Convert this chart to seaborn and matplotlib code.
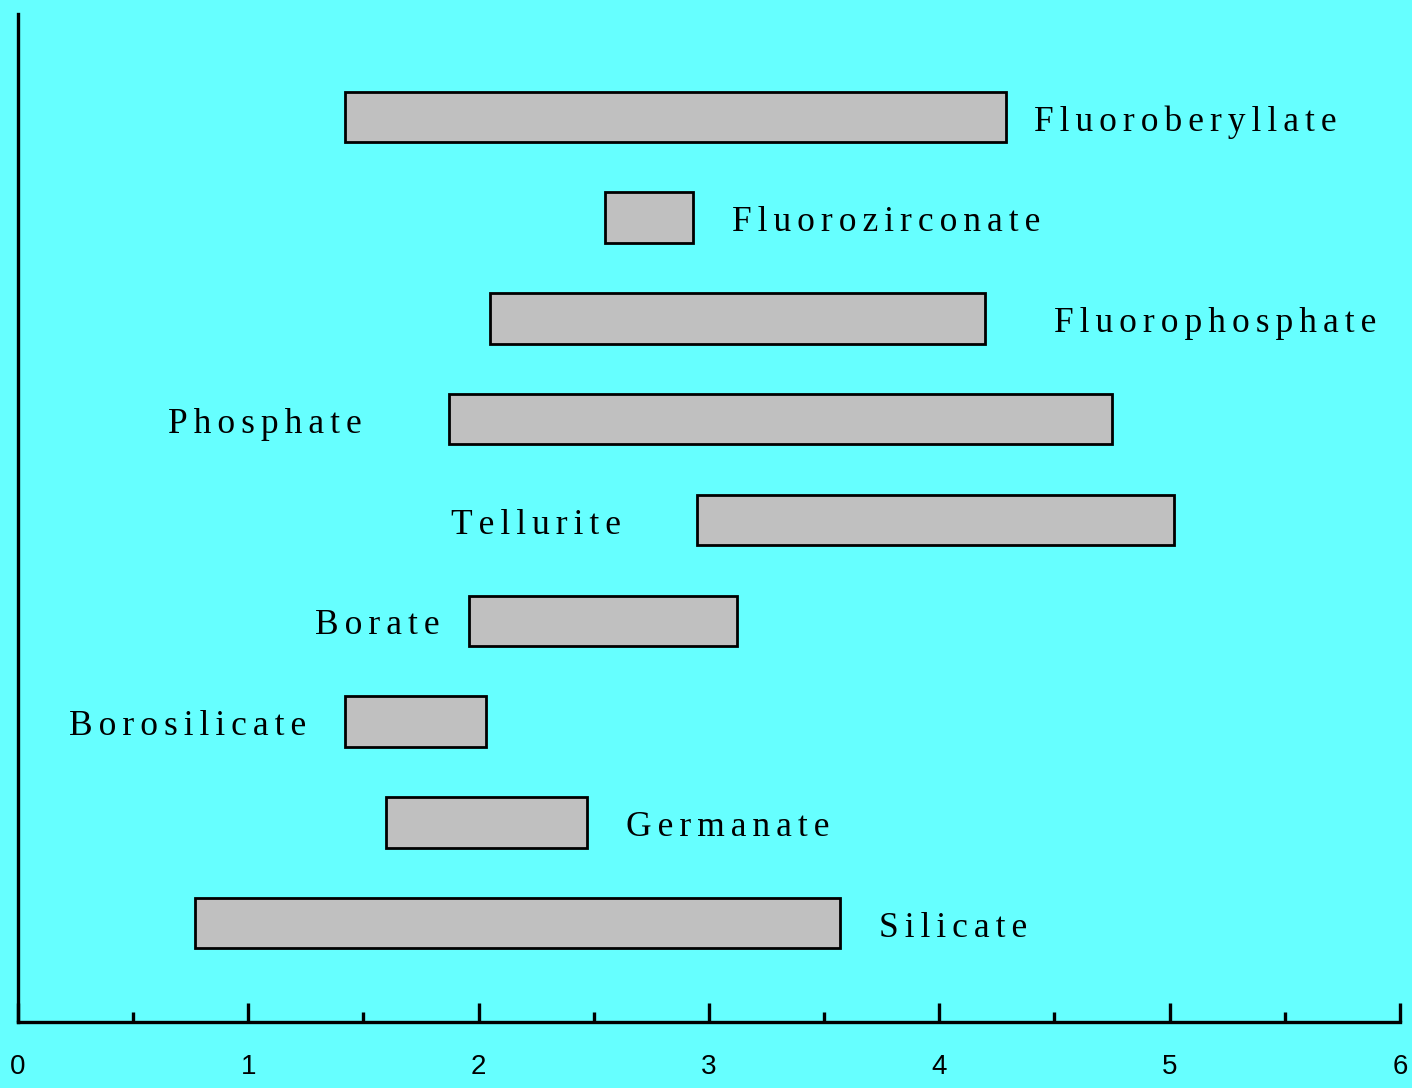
import matplotlib
matplotlib.use("Agg")
import matplotlib.pyplot as plt
import seaborn as sns
import pandas as pd

# ---- data ----
glasses = ["Fluoroberyllate", "Fluorozirconate", "Fluorophosphate", "Phosphate",
           "Tellurite", "Borate", "Borosilicate", "Germanate", "Silicate"]
range_start = [1.42, 2.55, 2.05, 1.87, 2.95, 1.96, 1.42, 1.60, 0.77]
range_end = [4.29, 2.93, 4.20, 4.75, 5.02, 3.12, 2.03, 2.47, 3.57]
label_x = [4.41, 3.10, 4.50, 0.65, 1.88, 1.29, 0.22, 2.64, 3.74]
x_ticks = [0, 1, 2, 3, 4, 5, 6]

df = pd.DataFrame({
    "glass": glasses,
    "start": range_start,
    "length": [e - s for s, e in zip(range_start, range_end)],
})

sns.set_theme(style="white")
bg = "#66FFFF"
fig = plt.figure(figsize=(14.12, 10.88), dpi=100, facecolor=bg)
ax = fig.add_axes([0.0127, 0.0607, 0.9788, 0.9264])
ax.set_facecolor(bg)

sns.barplot(data=df, y="glass", x="length", order=glasses, orient="h",
            width=0.5, color="#C0C0C0", saturation=1, left=df["start"].values,
            edgecolor="black", linewidth=2.0, ax=ax)

ax.set_xlim(0, 6)
ax.set_ylim(8.98, -1.02)

sep = "\u200a\u200a"
for name, lx, i in zip(glasses, label_x, range(len(glasses))):
    ax.text(lx, i + 0.05, sep.join(name), fontsize=25.5, va="center", ha="left",
            family=["Liberation Serif", "DejaVu Serif"], color="black")

for side in ["top", "right"]:
    ax.spines[side].set_visible(False)
for side in ["left", "bottom"]:
    ax.spines[side].set_color("black")
    ax.spines[side].set_linewidth(2.4)

ax.set_yticks([])
ax.set_ylabel("")
ax.set_xlabel("")
ax.set_xticks(x_ticks)
ax.set_xticks([0.5, 1.5, 2.5, 3.5, 4.5, 5.5], minor=True)
ax.set_xticklabels([str(t) for t in x_ticks], fontsize=20,
                   family=["Liberation Sans", "DejaVu Sans"])
ax.tick_params(axis="x", which="major", direction="in", length=14, width=2.4,
               color="black", pad=23, bottom=True, labelcolor="black")
ax.tick_params(axis="x", which="minor", direction="in", length=7, width=2.4,
               color="black", bottom=True)

fig.savefig("out.png", dpi=100, facecolor=bg)
